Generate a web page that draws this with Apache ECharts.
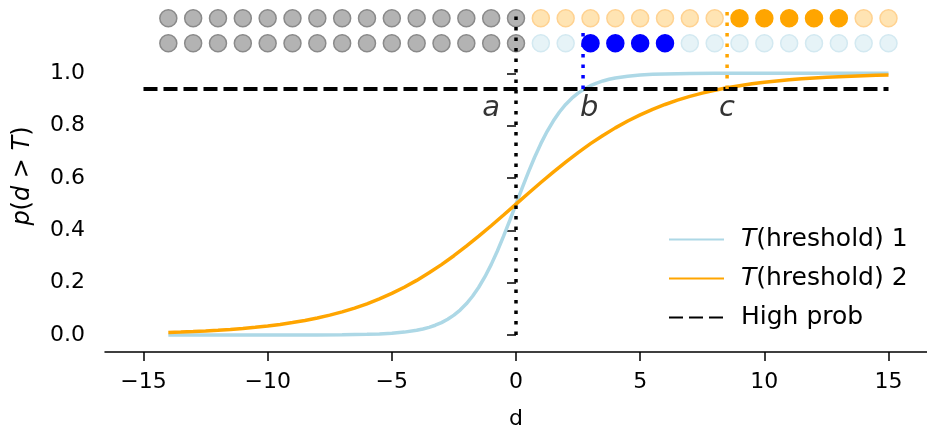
<!DOCTYPE html>
<html>
<head>
<meta charset="utf-8">
<script src="https://cdn.jsdelivr.net/npm/echarts@6/dist/echarts.min.js"></script>
<style>
  html, body { margin: 0; padding: 0; background: #fff; }
  #chart { width: 927px; height: 428px; }
</style>
</head>
<body>
<div id="chart"></div>
<script>
// Probability curves p(d > T) for two thresholds
const dT1 = [-14, -13, -12, -11, -10, -9, -8, -7, -6, -5.5, -5, -4.5, -4, -3.75, -3.5, -3.25, -3, -2.75, -2.5, -2.25, -2, -1.75, -1.5, -1.25, -1, -0.75, -0.5, -0.25, 0, 0.25, 0.5, 0.75, 1, 1.25, 1.5, 1.75, 2, 2.25, 2.5, 2.75, 3, 3.25, 3.5, 3.75, 4, 4.5, 5, 5.5, 6, 7, 8, 9, 10, 11, 12, 13, 14, 15];
const pT1 = [0.0000, 0.0000, 0.0000, 0.0000, 0.0000, 0.0001, 0.0003, 0.0009, 0.0025, 0.0041, 0.0067, 0.011, 0.018, 0.023, 0.0293, 0.0373, 0.0474, 0.0601, 0.0759, 0.0953, 0.1192, 0.148, 0.1824, 0.2227, 0.2689, 0.3208, 0.3775, 0.4378, 0.5, 0.5622, 0.6225, 0.6792, 0.7311, 0.7773, 0.8176, 0.852, 0.8808, 0.9047, 0.9241, 0.9399, 0.9526, 0.9627, 0.9707, 0.977, 0.982, 0.989, 0.9933, 0.9959, 0.9975, 0.9991, 0.9997, 0.9999, 1.0, 1.0, 1.0, 1.0, 1.0, 1.0];
const dT2 = [-14, -13.5, -13, -12.5, -12, -11.5, -11, -10.5, -10, -9.5, -9, -8.5, -8, -7.5, -7, -6.5, -6, -5.5, -5, -4.5, -4, -3.5, -3, -2.5, -2, -1.5, -1, -0.5, 0, 0.5, 1, 1.5, 2, 2.5, 3, 3.5, 4, 4.5, 5, 5.5, 6, 6.5, 7, 7.5, 8, 8.5, 9, 9.5, 10, 10.5, 11, 11.5, 12, 12.5, 13, 13.5, 14, 14.5, 15];
const pT2 = [0.0093, 0.011, 0.013, 0.0153, 0.018, 0.0212, 0.025, 0.0293, 0.0344, 0.0404, 0.0474, 0.0556, 0.065, 0.0759, 0.0884, 0.1027, 0.1192, 0.1378, 0.1589, 0.1824, 0.2086, 0.2375, 0.2689, 0.3029, 0.3392, 0.3775, 0.4174, 0.4584, 0.5, 0.5416, 0.5826, 0.6225, 0.6608, 0.6971, 0.7311, 0.7625, 0.7914, 0.8176, 0.8411, 0.8622, 0.8808, 0.8973, 0.9116, 0.9241, 0.935, 0.9444, 0.9526, 0.9596, 0.9656, 0.9707, 0.975, 0.9788, 0.982, 0.9847, 0.987, 0.989, 0.9907, 0.9921, 0.9933];

// "High prob" level
const highProbX = [-15, 15];
const highProb = 0.94;

// Marker lines a, b, c
const lineA = [[0, 0], [0, 1.24]];
const lineB = [[2.7, 0.94], [2.7, 1.16]];
const lineC = [[8.5, 0.94], [8.5, 1.24]];
const letters = [['a', -1.0, 0.865], ['b', 2.95, 0.865], ['c', 8.5, 0.865]];

// Dot rows above the curves
const rowTopY = 1.21;
const rowBottomY = 1.115;
const greyDots = [-14, -13, -12, -11, -10, -9, -8, -7, -6, -5, -4, -3, -2, -1, 0];
const orangeFaint = [1, 2, 3, 4, 5, 6, 7, 8, 14, 15];
const orangeSolid = [9, 10, 11, 12, 13];
const blueFaint = [1, 2, 7, 8, 9, 10, 11, 12, 13, 14, 15];
const blueSolid = [3, 4, 5, 6];

// Axis ticks
const xTicks = [-15, -10, -5, 0, 5, 10, 15];
const yTicks = [0, 0.2, 0.4, 0.6, 0.8, 1.0];

const FONT = 'DejaVu Sans';
const zip = (xs, ys) => xs.map((x, i) => [x, ys[i]]);
const row = (xs, y) => xs.map(x => [x, y]);

function dotSeries(data, fill, edge, z) {
  return {
    type: 'scatter', data: data, symbol: 'circle', symbolSize: 17, z: z,
    itemStyle: { color: fill, borderColor: edge, borderWidth: 1.5, opacity: 1 },
    emphasis: { disabled: true }, silent: true
  };
}

const chart = echarts.init(document.getElementById('chart'), null, { renderer: 'canvas' });
chart.setOption({
  animation: false,
  backgroundColor: '#ffffff',
  grid: { left: 105, right: 0, top: 0, bottom: 76, containLabel: false, outerBoundsMode: 'none' },
  xAxis: {
    type: 'value', min: -16.55, max: 16.55,
    name: 'd', nameLocation: 'middle', nameGap: 56,
    nameTextStyle: { fontFamily: FONT, fontSize: 22, color: '#000' },
    splitLine: { show: false },
    axisLine: { show: true, onZero: false, lineStyle: { color: '#000', width: 1.5 } },
    axisTick: { show: true, length: 9, lineStyle: { color: '#000', width: 1.5 }, customValues: xTicks },
    axisLabel: {
      fontFamily: FONT, fontSize: 22, color: '#000', margin: 19, customValues: xTicks,
      formatter: v => (v < 0 ? '\u2212' + Math.abs(v) : String(v))
    }
  },
  yAxis: {
    type: 'value', min: -0.065, max: 1.28,
    name: '{i|p}({i|d} > {i|T})', nameLocation: 'middle', nameGap: 70, nameRotate: 90,
    nameTextStyle: {
      fontFamily: FONT, fontSize: 24, color: '#000',
      rich: { i: { fontFamily: FONT, fontSize: 24, fontStyle: 'italic', color: '#000' } }
    },
    splitLine: { show: false },
    axisLine: { show: false },
    axisTick: { show: true, length: 9, lineStyle: { color: '#000', width: 1.5 }, customValues: yTicks },
    axisLabel: {
      fontFamily: FONT, fontSize: 22, color: '#000', margin: 20, customValues: yTicks,
      formatter: v => v.toFixed(1)
    }
  },
  legend: {
    orient: 'vertical', left: 663, top: 222, itemWidth: 55, itemHeight: 14, itemGap: 14,
    data: ['T1', 'T2', 'High prob'],
    itemStyle: { color: 'rgba(0,0,0,0)', borderWidth: 0, opacity: 0 },
    formatter: n => n === 'T1' ? '{i|T}(hreshold) 1' : n === 'T2' ? '{i|T}(hreshold) 2' : 'High prob',
    textStyle: {
      fontFamily: FONT, fontSize: 25, color: '#000', padding: [0, 0, 0, 12],
      rich: { i: { fontFamily: FONT, fontSize: 25, fontStyle: 'italic', color: '#000' } }
    },
    selectedMode: false
  },
  series: [
    {
      name: 'T1', type: 'line', data: zip(dT1, pT1),
      symbol: 'none', lineStyle: { color: '#ADD8E6', width: 3.5 }, itemStyle: { color: '#ADD8E6' }, z: 3
    },
    {
      name: 'T2', type: 'line', data: zip(dT2, pT2),
      symbol: 'none', lineStyle: { color: '#FFA500', width: 3.5 }, itemStyle: { color: '#FFA500' }, z: 3
    },
    {
      name: 'High prob', type: 'line', data: row(highProbX, highProb),
      symbol: 'none', lineStyle: { color: '#000', width: 4, type: [14, 6] }, itemStyle: { color: '#000' }, z: 4
    },
    dotSeries(row(greyDots, rowTopY), '#b3b3b3', '#8a8a8a', 2),
    dotSeries(row(orangeFaint, rowTopY), '#ffe4b3', '#ffd291', 2),
    dotSeries(row(orangeSolid, rowTopY), '#ffa500', '#ffa500', 2),
    dotSeries(row(greyDots, rowBottomY), '#b3b3b3', '#8a8a8a', 2),
    dotSeries(row(blueFaint, rowBottomY), '#e6f3f7', '#d3e9f1', 2),
    dotSeries(row(blueSolid, rowBottomY), '#0000ff', '#0000ff', 2),
    {
      type: 'line', data: lineA, symbol: 'none', z: 5,
      lineStyle: { color: '#000', width: 3.5, type: [3.5, 7] }
    },
    {
      type: 'line', data: lineB, symbol: 'none', z: 5,
      lineStyle: { color: '#0000ff', width: 3.5, type: [3.5, 7] }
    },
    {
      type: 'line', data: lineC, symbol: 'none', z: 5,
      lineStyle: { color: '#FFA500', width: 3.5, type: [3.5, 7] }
    },
    {
      type: 'scatter', symbolSize: 0, z: 6, silent: true,
      data: letters.map(l => ({ name: l[0], value: [l[1], l[2]] })),
      label: {
        show: true, position: 'inside', formatter: p => p.name,
        fontFamily: FONT, fontSize: 29, fontStyle: 'italic', color: '#000'
      }
    }
  ]
});
</script>
</body>
</html>
